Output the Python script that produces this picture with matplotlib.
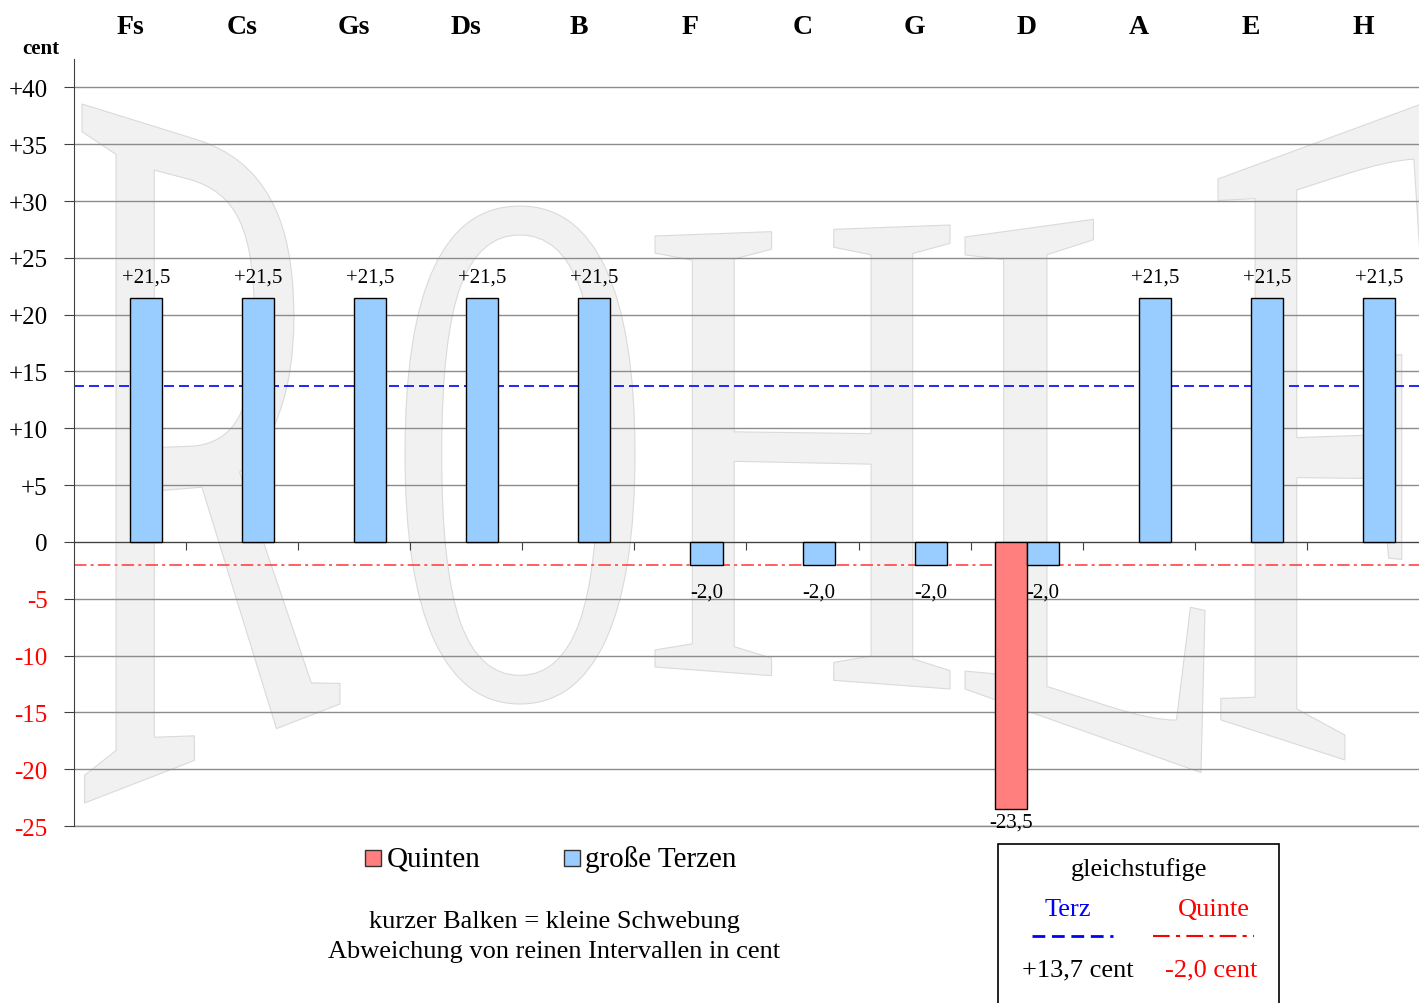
import numpy as np
import matplotlib
matplotlib.use("Agg")
import matplotlib.pyplot as plt
from matplotlib.patches import Rectangle, PathPatch
from matplotlib.lines import Line2D
from matplotlib.textpath import TextPath
from matplotlib.font_manager import FontProperties
from matplotlib.path import Path

plt.rcParams['font.family'] = ['Liberation Serif', 'DejaVu Serif']

# data
tones = ["Fs", "Cs", "Gs", "Ds", "B", "F", "C", "G", "D", "A", "E", "H"]
quinten = [0, 0, 0, 0, 0, 0, 0, 0, -23.5, 0, 0, 0]
terzen = [21.5, 21.5, 21.5, 21.5, 21.5, -2.0, -2.0, -2.0, -2.0, 21.5, 21.5, 21.5]
terz_gleich = 13.7
quinte_gleich = -2.0
yticks = list(range(-25, 45, 5))

W, H = 1419, 1004


def fx(px):
    return px / W


def fy(py):
    return 1 - py / H


def fmt(v):
    return f"{v:+.1f}".replace(".", ",")


fig = plt.figure(figsize=(W / 100, H / 100), dpi=100)
ax = fig.add_axes([fx(74), fy(827), fx(1419) - fx(74), fy(60) - fy(827)])
ax.set_xlim(-0.5, 11.5)
ax.set_ylim(-25, 42.5)

# watermark "ROHLF" (corners TL, TR, BR, BL in pixels)
wm_font = FontProperties(family='Liberation Serif')
wm_letters = [
    ("R", [(82, 105), (340, 185), (340, 705), (82, 805)]),
    ("O", [(405, 207), (635, 207), (635, 705), (405, 705)]),
    ("H", [(655, 237), (950, 226), (950, 690), (655, 668)]),
    ("L", [(965, 238), (1205, 205), (1205, 775), (965, 690)]),
    ("F", [(1218, 180), (1435, 100), (1435, 790), (1218, 720)]),
]
for letter, corners in wm_letters:
    tp = TextPath((0, 0), letter, size=100, prop=wm_font)
    verts = tp.vertices.copy()
    codes = tp.codes
    real = verts if codes is None else verts[codes != Path.CLOSEPOLY]
    x0, y0 = real.min(axis=0)
    x1, y1 = real.max(axis=0)
    u = (verts[:, 0] - x0) / (x1 - x0)
    v = (verts[:, 1] - y0) / (y1 - y0)
    (tlx, tly), (trx, tr_y), (brx, bry), (blx, bly) = corners
    top_x = tlx + u * (trx - tlx)
    top_y = tly + u * (tr_y - tly)
    bot_x = blx + u * (brx - blx)
    bot_y = bly + u * (bry - bly)
    px = bot_x + v * (top_x - bot_x)
    py = bot_y + v * (top_y - bot_y)
    path = Path(np.column_stack([fx(px), fy(py)]), codes)
    ax.add_patch(PathPatch(path, transform=fig.transFigure, facecolor='#f1f1f1',
                           edgecolor='#dadada', lw=0.8, zorder=0.1))

# grid and spines
ax.set_axisbelow(True)
ax.yaxis.grid(True, color='#8c8c8c', lw=1)
ax.axhline(-25, color='#8c8c8c', lw=1, clip_on=False, zorder=0.5)
for s in ['top', 'right']:
    ax.spines[s].set_visible(False)
ax.spines['left'].set_color('#404040')
ax.spines['bottom'].set_position(('data', 0))
ax.spines['bottom'].set_color('#404040')

ax.set_yticks(yticks)
ax.set_yticklabels([("+%d" % t if t > 0 else str(t)) for t in yticks])
for lab, t in zip(ax.get_yticklabels(), yticks):
    lab.set_color('red' if t < 0 else 'black')
ax.tick_params(axis='y', length=7, color='#404040', labelsize=18, pad=12)
ax.set_xticks(np.arange(0.5, 11.5, 1))
ax.tick_params(axis='x', direction='out', length=6, color='#404040', labelbottom=False)

# reference lines
ax.axhline(terz_gleich, color='#0000ff', lw=1.2, ls=(0, (6, 3)), zorder=1)
ax.axhline(quinte_gleich, color='#ff4444', lw=1.2, ls=(0, (7.5, 2.5, 1.8, 2.5)), zorder=1)

# bars
w = 0.286
x = np.arange(len(tones))
q = np.array(quinten)
mask = q != 0
ax.bar(x[mask] - w / 2, q[mask], w, color='#ff7f7f', edgecolor='black', lw=1, zorder=3)
ax.bar(x + w / 2, terzen, w, color='#99ccff', edgecolor='black', lw=1, zorder=3)


def label(xpos, v):
    if v > 0:
        off = 15
    elif v > -20:
        off = -19.5
    else:
        off = -9.5
    ax.annotate(fmt(v), (xpos, v), xytext=(0, off), textcoords='offset points',
                ha='center', va='center', fontsize=15, zorder=4)


for i in range(len(tones)):
    if quinten[i] != 0:
        label(i - w / 2, quinten[i])
    label(i + w / 2, terzen[i])

# category names on top
for i, name in enumerate(tones):
    ax.text(i, 1.042, name, transform=ax.get_xaxis_transform(), ha='center',
            va='center', fontsize=20, fontweight='bold')
fig.text(fx(41), fy(49), "cent", ha='center', va='center', fontsize=15, fontweight='bold')

# legend
fig.add_artist(Rectangle((fx(365), fy(867)), fx(16), 16 / H, facecolor='#ff7f7f',
                         edgecolor='#333333', lw=1, transform=fig.transFigure))
fig.text(fx(387), fy(860), "Quinten", ha='left', va='center', fontsize=21)
fig.add_artist(Rectangle((fx(564), fy(867)), fx(16), 16 / H, facecolor='#99ccff',
                         edgecolor='#333333', lw=1, transform=fig.transFigure))
fig.text(fx(585), fy(860), "große Terzen", ha='left', va='center', fontsize=21)

fig.text(fx(554), fy(922), "kurzer Balken = kleine Schwebung", ha='center', va='center', fontsize=19)
fig.text(fx(554), fy(952), "Abweichung von reinen Intervallen in cent", ha='center', va='center', fontsize=19)

# box with equal temperament values
fig.add_artist(Rectangle((fx(998), fy(1012)), fx(1279) - fx(998), (1012 - 845) / H, fill=False,
                         edgecolor='black', lw=1.2, transform=fig.transFigure))
fig.text(fx(1139), fy(870), "gleichstufige", ha='center', va='center', fontsize=19)
fig.text(fx(1068), fy(910), "Terz", ha='center', va='center', fontsize=19, color='#0000ff')
fig.text(fx(1214), fy(910), "Quinte", ha='center', va='center', fontsize=19, color='red')
fig.add_artist(Line2D([fx(1032), fx(1113)], [fy(937), fy(937)], color='#0000ff', lw=2,
                      ls=(0, (4.6, 2.4)), transform=fig.transFigure))
fig.add_artist(Line2D([fx(1153), fx(1254)], [fy(937), fy(937)], color='red', lw=1.5,
                      ls=(0, (8, 3, 2, 3)), transform=fig.transFigure))
fig.text(fx(1078), fy(970), fmt(terz_gleich) + " cent", ha='center', va='center', fontsize=19)
fig.text(fx(1211), fy(970), fmt(quinte_gleich).lstrip('+') + " cent", ha='center', va='center',
         fontsize=19, color='red')

fig.savefig("out.png", dpi=100)
